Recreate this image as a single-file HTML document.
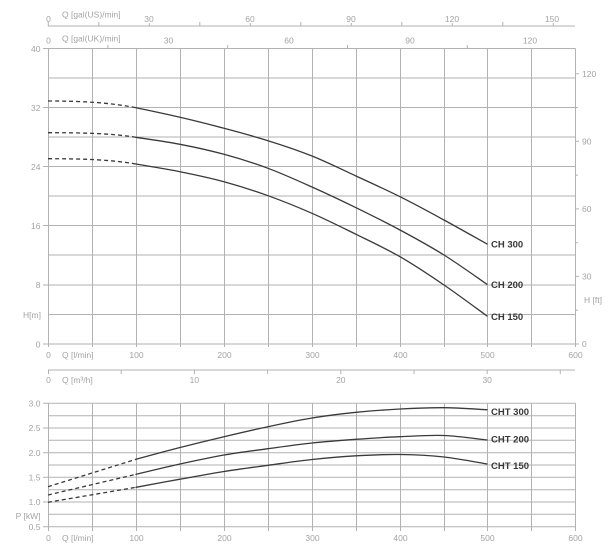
<!DOCTYPE html>
<html><head><meta charset="utf-8"><style>
html,body{margin:0;padding:0;background:#fff;}
svg{display:block;}
text{font-family:"Liberation Sans",sans-serif;}
.t{font-size:8.5px;fill:#a3a3a3;}
.lg{font-size:9.5px;font-weight:bold;fill:#383838;}
.g{stroke:#b2b2b2;stroke-width:1;fill:none;}
.c{stroke:#3a3a3a;stroke-width:1.3;fill:none;stroke-linejoin:round;stroke-linecap:round;}
.d{stroke:#3a3a3a;stroke-width:1.3;fill:none;stroke-dasharray:4 3;}
</style></head><body>
<svg width="614" height="552" viewBox="0 0 614 552" xmlns="http://www.w3.org/2000/svg">
<!-- US gallons axis -->
<g class="g">
<line x1="48" y1="26" x2="575" y2="26"/>
<line x1="48.3" y1="22" x2="48.3" y2="26"/><line x1="98.8" y1="22" x2="98.8" y2="26"/><line x1="149.3" y1="23" x2="149.3" y2="26"/><line x1="199.8" y1="22" x2="199.8" y2="26"/><line x1="250.3" y1="23" x2="250.3" y2="26"/><line x1="300.8" y1="22" x2="300.8" y2="26"/><line x1="351.3" y1="23" x2="351.3" y2="26"/><line x1="401.8" y1="22" x2="401.8" y2="26"/><line x1="452.3" y1="23" x2="452.3" y2="26"/><line x1="502.8" y1="22" x2="502.8" y2="26"/><line x1="553.3" y1="23" x2="553.3" y2="26"/>
</g>
<g class="t" text-anchor="middle">
<text x="48.5" y="22">0</text><text x="149" y="22">30</text><text x="250" y="22">60</text><text x="351" y="22">90</text><text x="452" y="22">120</text><text x="552" y="22">150</text>
</g>
<text class="t" x="62" y="17.5">Q [gal(US)/min]</text>
<!-- UK gallons axis -->
<g class="g">
<line x1="107.9" y1="45" x2="107.9" y2="48.5"/><line x1="227.7" y1="45" x2="227.7" y2="48.5"/><line x1="347.5" y1="45" x2="347.5" y2="48.5"/><line x1="467.3" y1="45" x2="467.3" y2="48.5"/>
</g>
<g class="t" text-anchor="middle">
<text x="48.5" y="43.5">0</text><text x="168.5" y="43.5">30</text><text x="289" y="43.5">60</text><text x="410" y="43.5">90</text><text x="530" y="43.5">120</text>
</g>
<text class="t" x="62" y="41.5">Q [gal(UK)/min]</text>

<!-- Top chart grid -->
<g class="g">
<line x1="48.5" y1="48.5" x2="48.5" y2="347"/><line x1="92.5" y1="48.5" x2="92.5" y2="347"/><line x1="136.5" y1="48.5" x2="136.5" y2="347"/><line x1="180.5" y1="48.5" x2="180.5" y2="347"/><line x1="224.5" y1="48.5" x2="224.5" y2="347"/><line x1="268.5" y1="48.5" x2="268.5" y2="347"/><line x1="312.5" y1="48.5" x2="312.5" y2="347"/><line x1="356.5" y1="48.5" x2="356.5" y2="347"/><line x1="400.5" y1="48.5" x2="400.5" y2="347"/><line x1="444.5" y1="48.5" x2="444.5" y2="347"/><line x1="487.5" y1="48.5" x2="487.5" y2="347"/><line x1="531.5" y1="48.5" x2="531.5" y2="347"/><line x1="575.5" y1="48.5" x2="575.5" y2="347"/>
<line x1="43" y1="48.5" x2="575.5" y2="48.5"/>
<line x1="48" y1="78" x2="575.5" y2="78"/>
<line x1="43" y1="107.5" x2="575.5" y2="107.5"/>
<line x1="48" y1="137" x2="575.5" y2="137"/>
<line x1="43" y1="166.5" x2="575.5" y2="166.5"/>
<line x1="48" y1="196" x2="575.5" y2="196"/>
<line x1="43" y1="225.5" x2="575.5" y2="225.5"/>
<line x1="48" y1="255" x2="575.5" y2="255"/>
<line x1="43" y1="285" x2="575.5" y2="285"/>
<line x1="48" y1="314.5" x2="575.5" y2="314.5"/>
<line x1="43" y1="344" x2="575.5" y2="344"/>
<!-- right ft ticks -->
<line x1="575" y1="344" x2="579" y2="344"/><line x1="575" y1="310.2" x2="578" y2="310.2"/><line x1="575" y1="276.4" x2="579" y2="276.4"/><line x1="575" y1="242.7" x2="578" y2="242.7"/><line x1="575" y1="208.9" x2="579" y2="208.9"/><line x1="575" y1="175.1" x2="578" y2="175.1"/><line x1="575" y1="141.3" x2="579" y2="141.3"/><line x1="575" y1="107.6" x2="578" y2="107.6"/><line x1="575" y1="73.8" x2="579" y2="73.8"/>
</g>
<g class="t" text-anchor="end">
<text x="40.5" y="52">40</text><text x="40.5" y="111">32</text><text x="40.5" y="170">24</text><text x="40.5" y="229">16</text><text x="40.5" y="288">8</text><text x="40.5" y="347.5">0</text>
<text x="41" y="318">H[m]</text>
</g>
<g class="t">
<text x="582" y="77">120</text><text x="582" y="144.5">90</text><text x="582" y="212">60</text><text x="582" y="279.5">30</text><text x="582" y="347">0</text>
<text x="584" y="303">H [ft]</text>
</g>
<g class="t" text-anchor="middle">
<text x="48.5" y="358">0</text><text x="136.5" y="358">100</text><text x="224.5" y="358">200</text><text x="312.5" y="358">300</text><text x="400.5" y="358">400</text><text x="487.5" y="358">500</text><text x="575.5" y="358">600</text>
</g>
<text class="t" x="62" y="358">Q [l/min]</text>

<!-- m3/h axis -->
<g class="g">
<line x1="48" y1="370" x2="575" y2="370"/>
<line x1="48.5" y1="370" x2="48.5" y2="374"/><line x1="121.2" y1="370" x2="121.2" y2="374"/><line x1="194.4" y1="370" x2="194.4" y2="374"/><line x1="267.6" y1="370" x2="267.6" y2="374"/><line x1="340.8" y1="370" x2="340.8" y2="374"/><line x1="414" y1="370" x2="414" y2="374"/><line x1="487.2" y1="370" x2="487.2" y2="374"/><line x1="560.3" y1="370" x2="560.3" y2="374"/>
</g>
<g class="t" text-anchor="middle">
<text x="48.5" y="383">0</text><text x="194.4" y="383">10</text><text x="340.8" y="383">20</text><text x="487.2" y="383">30</text>
</g>
<text class="t" x="62" y="383">Q [m³/h]</text>

<!-- Top curves -->
<path class="d" d="M48,101 C80,101 108,102.3 136,107.7"/>
<path class="c" d="M136,107.7 C143.3,109.3 165.3,113.9 180,117.3 C194.7,120.7 209.3,124.4 224,128.3 C238.7,132.2 253.3,136.1 268,140.7 C282.7,145.3 297.3,150.1 312,156 C326.7,161.9 341.3,169.2 356,176 C370.7,182.8 385.3,189.4 400,196.7 C414.7,204 429.5,212.1 444,220 C458.5,227.9 479.8,240 487,244"/>
<path class="d" d="M48,132.7 C80,132.7 110,133.1 136,137.3"/>
<path class="c" d="M136,137.3 C143.3,138.5 165.3,141.5 180,144.3 C194.7,147.1 209.3,150.3 224,154.3 C238.7,158.3 253.3,162.85 268,168.3 C282.7,173.75 297.3,180.4 312,187 C326.7,193.6 341.3,200.5 356,207.7 C370.7,214.9 385.3,222.1 400,230 C414.7,237.9 429.5,245.95 444,255 C458.5,264.05 479.8,279.4 487,284.3"/>
<path class="d" d="M48,158.7 C80,158.7 110,159.45 136,164"/>
<path class="c" d="M136,164 C143.3,165.3 165.3,168.75 180,171.7 C194.7,174.65 209.3,177.7 224,181.7 C238.7,185.7 253.3,190.4 268,195.7 C282.7,200.97 297.3,206.9 312,213.3 C326.7,219.7 341.3,227.1 356,234.3 C370.7,241.5 385.3,248.25 400,256.7 C414.7,265.15 429.5,275.1 444,285 C458.5,294.9 479.8,310.8 487,316"/>
<text class="lg" x="491" y="247.5">CH 300</text>
<text class="lg" x="491" y="288">CH 200</text>
<text class="lg" x="491" y="320">CH 150</text>

<!-- Bottom chart grid -->
<g class="g">
<line x1="48.5" y1="403.3" x2="48.5" y2="531"/><line x1="92.5" y1="403.3" x2="92.5" y2="531"/><line x1="136.5" y1="403.3" x2="136.5" y2="531"/><line x1="180.5" y1="403.3" x2="180.5" y2="531"/><line x1="224.5" y1="403.3" x2="224.5" y2="531"/><line x1="268.5" y1="403.3" x2="268.5" y2="531"/><line x1="312.5" y1="403.3" x2="312.5" y2="531"/><line x1="356.5" y1="403.3" x2="356.5" y2="531"/><line x1="400.5" y1="403.3" x2="400.5" y2="531"/><line x1="444.5" y1="403.3" x2="444.5" y2="531"/><line x1="487.5" y1="403.3" x2="487.5" y2="531"/><line x1="531.5" y1="403.3" x2="531.5" y2="531"/><line x1="575.5" y1="403.3" x2="575.5" y2="531"/>
<line x1="43" y1="403.3" x2="575.5" y2="403.3"/>
<line x1="48" y1="415.7" x2="575.5" y2="415.7"/>
<line x1="43" y1="428" x2="575.5" y2="428"/>
<line x1="48" y1="440.3" x2="575.5" y2="440.3"/>
<line x1="43" y1="452.7" x2="575.5" y2="452.7"/>
<line x1="48" y1="465" x2="575.5" y2="465"/>
<line x1="43" y1="477.3" x2="575.5" y2="477.3"/>
<line x1="48" y1="489.7" x2="575.5" y2="489.7"/>
<line x1="43" y1="502" x2="575.5" y2="502"/>
<line x1="48" y1="514.3" x2="575.5" y2="514.3"/>
<line x1="43" y1="526.7" x2="575.5" y2="526.7"/>
</g>
<g class="t" text-anchor="end">
<text x="40.5" y="406.5">3.0</text><text x="40.5" y="431">2.5</text><text x="40.5" y="456">2.0</text><text x="40.5" y="480.5">1.5</text><text x="40.5" y="505">1.0</text><text x="40.5" y="530">0.5</text>
<text x="40.5" y="519">P [kW]</text>
</g>
<g class="t" text-anchor="middle">
<text x="48.5" y="541">0</text><text x="136.5" y="541">100</text><text x="224.5" y="541">200</text><text x="312.5" y="541">300</text><text x="400.5" y="541">400</text><text x="487.5" y="541">500</text><text x="575.5" y="541">600</text>
</g>
<text class="t" x="62" y="541">Q [l/min]</text>

<!-- Bottom curves -->
<polyline class="d" points="48,486.7 136,459.3"/>
<path class="c" d="M136,459.3 C143.3,457.3 165.3,451.3 180,447.5 C194.7,443.7 209.3,440.2 224,436.7 C238.7,433.2 253.3,429.8 268,426.7 C282.7,423.6 297.3,420.4 312,418 C326.7,415.6 341.3,413.8 356,412.3 C370.7,410.8 385.3,409.8 400,409 C414.7,408.2 429.5,407.6 444,407.7 C458.5,407.8 479.8,409.4 487,409.7"/>
<polyline class="d" points="48,495 136,474.3"/>
<path class="c" d="M136,474.3 C143.3,472.6 165.3,467.2 180,464 C194.7,460.8 209.3,457.55 224,455 C238.7,452.45 253.3,450.7 268,448.7 C282.7,446.7 297.3,444.6 312,443 C326.7,441.4 341.3,440.35 356,439.3 C370.7,438.25 385.3,437.3 400,436.7 C414.7,436.07 429.5,434.95 444,435.5 C458.5,436.05 479.8,439.25 487,440"/>
<polyline class="d" points="48,502.3 136,487.3"/>
<path class="c" d="M136,487.3 C143.3,485.95 165.3,481.83 180,479.2 C194.7,476.57 209.3,473.82 224,471.5 C238.7,469.18 253.3,467.3 268,465.3 C282.7,463.3 297.3,461.08 312,459.5 C326.7,457.92 341.3,456.63 356,455.8 C370.7,454.97 385.3,454.3 400,454.5 C414.7,454.7 429.5,455.42 444,457 C458.5,458.58 479.8,462.83 487,464"/>
<text class="lg" x="491" y="415">CHT 300</text>
<text class="lg" x="491" y="442.5">CHT 200</text>
<text class="lg" x="491" y="469">CHT 150</text>
</svg>
</body></html>
